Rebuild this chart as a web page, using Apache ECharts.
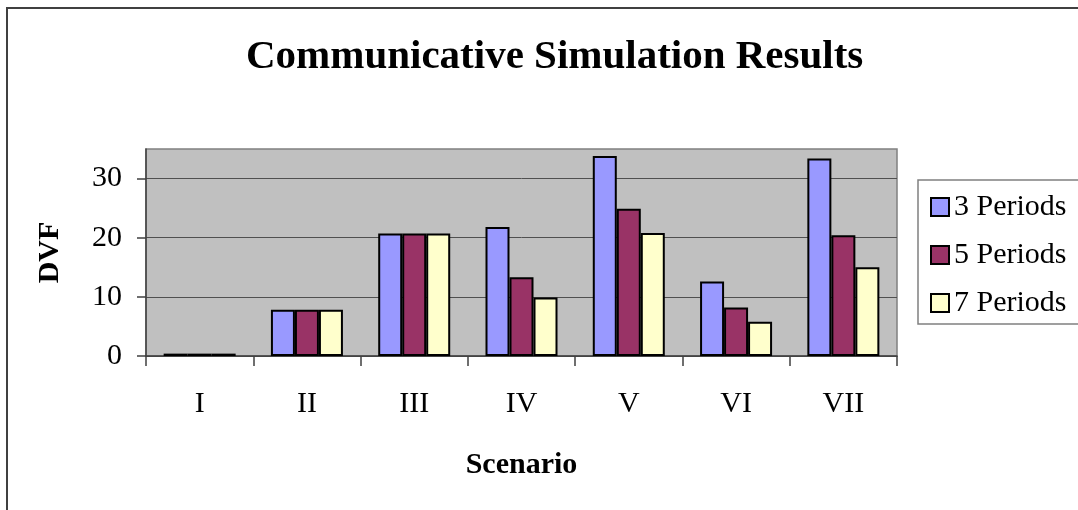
<!DOCTYPE html>
<html>
<head>
<meta charset="utf-8">
<script src="https://cdn.jsdelivr.net/npm/echarts@6/dist/echarts.min.js"></script>
<style>
html,body{margin:0;padding:0;background:#fff;}
#chart{width:1078px;height:510px;}
</style>
</head>
<body>
<div id="chart"></div>
<script>
const categories = ['I', 'II', 'III', 'IV', 'V', 'VI', 'VII'];
const periods3 = [0.4, 7.8, 20.7, 21.8, 33.8, 12.6, 33.4];
const periods5 = [0.4, 7.8, 20.7, 13.3, 24.9, 8.2, 20.4];
const periods7 = [0.4, 7.8, 20.7, 9.9, 20.8, 5.8, 15.0];
const seriesNames = ['3 Periods', '5 Periods', '7 Periods'];
const yTicks = [0, 10, 20, 30];

const FONT = '"Liberation Serif", "Times New Roman", serif';
const chart = echarts.init(document.getElementById('chart'), null, {renderer: 'canvas'});

const barStyle = (color) => ({color: color, borderColor: '#000', borderWidth: 2});

chart.setOption({
  backgroundColor: '#fff',
  animation: false,
  title: {
    text: 'Communicative Simulation Results',
    left: 241,
    top: 32,
    textStyle: {fontFamily: FONT, fontSize: 41, fontWeight: 'bold', color: '#000'}
  },
  graphic: [{
    type: 'rect',
    shape: {x: 7, y: 8, width: 1200, height: 1000},
    style: {fill: null, stroke: '#404040', lineWidth: 2},
    silent: true
  }],
  legend: {
    orient: 'vertical',
    left: 918,
    top: 180,
    padding: [12, 40, 6, 12],
    itemGap: 18,
    itemWidth: 18,
    itemHeight: 18,
    itemTextGap: 14,
    icon: 'rect',
    borderColor: '#808080',
    borderWidth: 1.5,
    textStyle: {fontFamily: FONT, fontSize: 30, color: '#000'},
    data: seriesNames
  },
  grid: {
    left: 146, top: 149, right: 181, bottom: 154,
    show: true, backgroundColor: '#C0C0C0', borderColor: '#808080', borderWidth: 1.5
  },
  xAxis: {
    type: 'category',
    data: categories,
    boundaryGap: true,
    name: 'Scenario',
    nameLocation: 'middle',
    nameGap: 94,
    nameTextStyle: {fontFamily: FONT, fontSize: 30, fontWeight: 'bold', color: '#000'},
    axisLine: {lineStyle: {color: '#404040', width: 1.5}},
    axisTick: {show: true, length: 10, alignWithLabel: false, lineStyle: {color: '#404040', width: 1.5}},
    axisLabel: {margin: 33, fontFamily: FONT, fontSize: 30, color: '#000'}
  },
  yAxis: {
    type: 'value',
    min: 0, max: 35, interval: 10,
    name: 'DVF',
    nameLocation: 'middle',
    nameRotate: 90,
    nameGap: 81,
    nameTextStyle: {fontFamily: FONT, fontSize: 30, fontWeight: 'bold', color: '#000'},
    axisLine: {show: true, lineStyle: {color: '#404040', width: 1.5}},
    axisTick: {show: true, length: 9, customValues: yTicks, lineStyle: {color: '#404040', width: 1.5}},
    axisLabel: {margin: 24, fontFamily: FONT, fontSize: 30, color: '#000', customValues: yTicks},
    splitLine: {show: true, lineStyle: {color: '#505050', width: 1}}
  },
  series: [
    {name: seriesNames[0], type: 'bar', data: periods3, barWidth: 24, barGap: '0%', itemStyle: barStyle('#9999FF')},
    {name: seriesNames[1], type: 'bar', data: periods5, barWidth: 24, barGap: '0%', itemStyle: barStyle('#993366')},
    {name: seriesNames[2], type: 'bar', data: periods7, barWidth: 24, barGap: '0%', itemStyle: barStyle('#FFFFCC')}
  ]
});
</script>
</body>
</html>
